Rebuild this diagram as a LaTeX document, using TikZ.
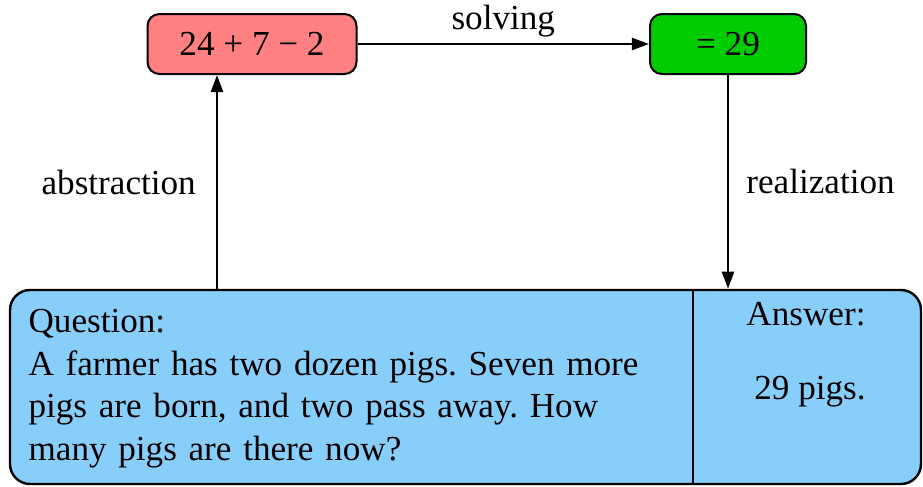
\documentclass[tikz,border=0pt]{standalone}
\usepackage{fontspec}
\setmainfont{Liberation Serif}
\usetikzlibrary{arrows.meta, positioning}

\definecolor{exprred}{HTML}{FF8080}
\definecolor{resgreen}{HTML}{00CC00}
\definecolor{panelblue}{HTML}{87CEFA}

\frenchspacing
\begin{document}
\begin{tikzpicture}[
  x=0.35pt, y=-0.35pt,
  every node/.style={font=\fontsize{12.3}{14.9}\selectfont},
  mathbox/.style={rectangle, rounded corners=4.2pt, draw=black, line width=0.7pt, minimum height=21pt, inner sep=0pt},
  arr/.style={-{Triangle[length=6pt, width=4.2pt]}, line width=0.85pt},
  lbl/.style={inner sep=0pt}
]
\useasboundingbox (0,0) rectangle (923,486);
\node[mathbox, fill=exprred, minimum width=73.15pt] (expr) at (252,44) {24 + 7 − 2};
\node[mathbox, fill=resgreen, minimum width=54.6pt] (res) at (728,44) {= 29};
\node[rectangle, rounded corners=7pt, draw=black, line width=0.85pt, fill=panelblue,
      minimum width=318.85pt, minimum height=67.9pt, inner sep=0pt] (panel) at (465.5,387) {};
\draw[line width=0.85pt] (693,290) -- (693,484);
\node[lbl, anchor=north west, text width=230pt, align=left] (question) at (28,309)
  {Question:\\A farmer has two dozen pigs. Seven more\\pigs are born, and two pass away. How\\many pigs are there now?};
\node[lbl] (anshead) at (806,314) {Answer:};
\node[lbl] (ansbody) at (810,392) {29 pigs.};
\coordinate (absfoot) at (217,290);
\draw[arr] (expr) -- (res) node[midway, above=2pt, lbl] (solving) {solving};
\draw[arr] (absfoot) -- (absfoot |- expr.south) node[midway, left=7pt, lbl] (abstraction) {abstraction};
\draw[arr] (res.south) -- (res.south |- panel.north) node[midway, right=6pt, lbl] (realization) {realization};
\end{tikzpicture}
\end{document}
